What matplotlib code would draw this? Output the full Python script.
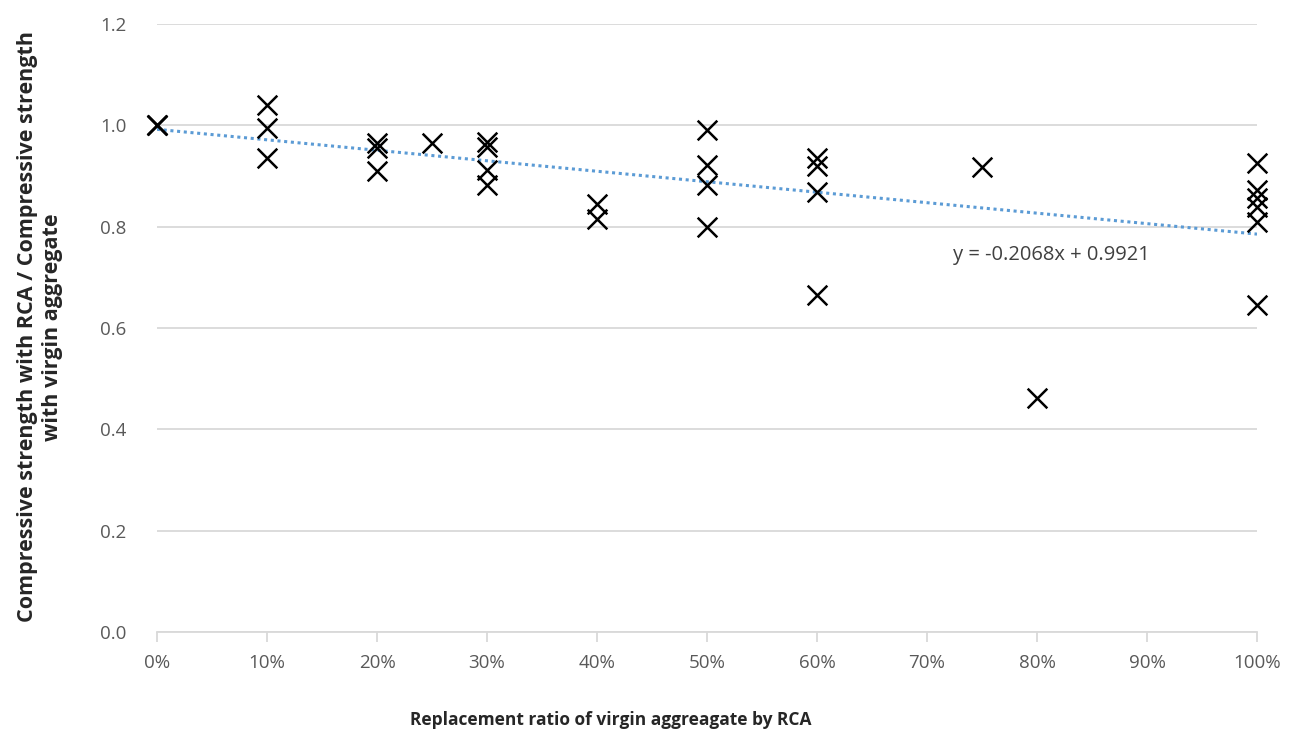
import matplotlib
matplotlib.use("Agg")
import matplotlib.pyplot as plt
import numpy as np

# Replacement ratio (fraction) and normalized compressive strength
ratio = [0.0, 0.0, 0.0,
         0.10, 0.10, 0.10,
         0.20, 0.20, 0.20,
         0.25,
         0.30, 0.30, 0.30, 0.30,
         0.40, 0.40,
         0.50, 0.50, 0.50, 0.50,
         0.60, 0.60, 0.60, 0.60,
         0.75,
         0.80,
         1.00, 1.00, 1.00, 1.00, 1.00, 1.00]
strength = [1.00, 1.00, 1.00,
            1.040, 0.995, 0.935,
            0.965, 0.955, 0.910,
            0.965,
            0.968, 0.958, 0.912, 0.882,
            0.845, 0.815,
            0.991, 0.922, 0.882, 0.800,
            0.935, 0.920, 0.869, 0.665,
            0.918,
            0.462,
            0.925, 0.872, 0.856, 0.839, 0.810, 0.645]

# Linear trendline as printed on the chart
slope = -0.2068
intercept = 0.9921
equation_label = "y = -0.2068x + 0.9921"

xticks = [0.0, 0.1, 0.2, 0.3, 0.4, 0.5, 0.6, 0.7, 0.8, 0.9, 1.0]
xtick_labels = ["0%", "10%", "20%", "30%", "40%", "50%", "60%", "70%", "80%", "90%", "100%"]
yticks = [0.0, 0.2, 0.4, 0.6, 0.8, 1.0, 1.2]
ytick_labels = ["0.0", "0.2", "0.4", "0.6", "0.8", "1.0", "1.2"]

plt.rcParams['font.family'] = ['Open Sans', 'DejaVu Sans']

W, H = 1295, 738
fig = plt.figure(figsize=(W / 100, H / 100), dpi=100)
ax = fig.add_axes([157 / W, 1 - 632 / H, 1100 / W, 608 / H])

grid_c = "#D9D9D9"
text_c = "#595959"

ax.set_xlim(0, 1)
ax.set_ylim(0, 1.2)
ax.set_yticks(yticks)
ax.set_yticklabels(ytick_labels)
ax.set_xticks(xticks)
ax.set_xticklabels(xtick_labels)

ax.yaxis.grid(True, color=grid_c, linewidth=1.3, zorder=0)
ax.set_axisbelow(True)
for s in ["top", "right", "left"]:
    ax.spines[s].set_visible(False)
ax.spines["bottom"].set_color(grid_c)
ax.spines["bottom"].set_linewidth(1.3)

ax.tick_params(axis="y", length=0, pad=22, labelsize=13.5, labelcolor=text_c)
ax.tick_params(axis="x", length=7, width=1.3, color=grid_c, direction="out",
               pad=9, labelsize=13.5, labelcolor=text_c)

# trendline
xt = np.array([0.0, 1.0])
ax.plot(xt, slope * xt + intercept, linestyle=(0, (1, 1.2)), color="#5B9BD5",
        linewidth=2.2, zorder=2)

ax.scatter(ratio, strength, marker="x", s=200, color="black", linewidths=1.8,
           zorder=3, clip_on=False)

ax.text(0.724, 0.744, equation_label, fontsize=14.5, color="#404040",
        ha="left", va="center")

fig.text(611 / W, 1 - 720 / H, "Replacement ratio of virgin aggreagate by RCA",
         fontsize=12.5, fontweight="bold", color="#262626", ha="center", va="center")
fig.text(40 / W, 1 - 327 / H,
         "Compressive strength with RCA / Compressive strength\nwith virgin aggregate",
         fontsize=15.5, fontweight="bold", color="#262626", ha="center", va="center",
         rotation=90, multialignment="center", linespacing=1.3)

fig.savefig("out.png", dpi=100, facecolor="white")
